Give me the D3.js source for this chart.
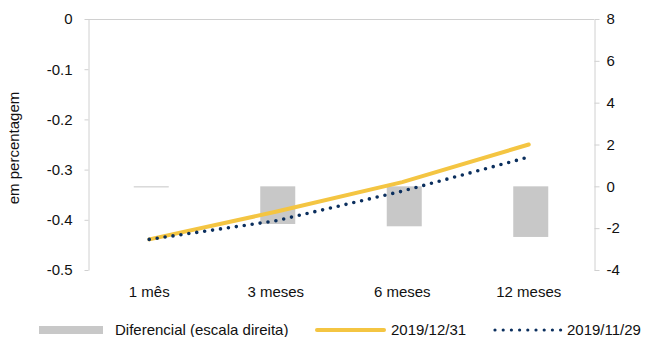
<!DOCTYPE html>
<html><head><meta charset="utf-8">
<script src="https://cdn.jsdelivr.net/npm/d3@7"></script>
<style>
html,body{margin:0;padding:0;background:#fff;}
svg text{font-family:"Liberation Sans",Arial,sans-serif;fill:#111;}
</style></head>
<body><svg id="c" width="646" height="337"></svg>
<script>
const categories = ["1 mês", "3 meses", "6 meses", "12 meses"];
const diferencial = [-0.05, -1.80, -1.91, -2.42];
const serie1231 = [-0.439, -0.384, -0.325, -0.250];
const serie1129 = [-0.439, -0.402, -0.343, -0.275];
const leftTicks = [0, -0.1, -0.2, -0.3, -0.4, -0.5];
const leftTickLabels = ["0", "-0.1", "-0.2", "-0.3", "-0.4", "-0.5"];
const rightTicks = [8, 6, 4, 2, 0, -2, -4];
const rightTickLabels = ["8", "6", "4", "2", "0", "-2", "-4"];
const legendLabels = ["Diferencial (escala direita)", "2019/12/31", "2019/11/29"];
const yAxisTitle = "em percentagem";

const svg = d3.select("#c");
const m = {l: 88, r: 594, t: 19, b: 270};
const x = d3.scaleBand().domain(categories).range([m.l, m.r]).paddingInner(0).paddingOuter(0);
const yL = d3.scaleLinear().domain([-0.5, 0]).range([m.b, m.t]);
const yR = d3.scaleLinear().domain([-4, 8]).range([m.b, m.t]);
const axisColor = "#d0d0d0";
const barW = 35;

// top border
svg.append("line").attr("x1", m.l).attr("x2", m.r).attr("y1", m.t + 0.5).attr("y2", m.t + 0.5)
  .attr("stroke", axisColor).attr("stroke-width", 1);

// left axis
const gL = svg.append("g").attr("transform", `translate(${m.l + 0.5},0)`)
  .call(d3.axisLeft(yL).tickValues(leftTicks).tickSize(4).tickSizeOuter(0)
    .tickFormat((d, i) => leftTickLabels[i]));
gL.select(".domain").attr("stroke", axisColor);
gL.selectAll(".tick line").attr("stroke", axisColor);
gL.selectAll(".tick text").attr("x", -16).attr("font-size", 15).style("fill", "#111");

// right axis
const gR = svg.append("g").attr("transform", `translate(${m.r + 0.5},0)`)
  .call(d3.axisRight(yR).tickValues(rightTicks).tickSize(5).tickSizeOuter(0)
    .tickFormat((d, i) => rightTickLabels[i]));
gR.select(".domain").attr("stroke", axisColor);
gR.selectAll(".tick line").attr("stroke", axisColor);
gR.selectAll(".tick text").attr("x", 12).attr("font-size", 15).style("fill", "#111");

// bars
svg.append("g").selectAll("rect").data(categories).join("rect")
  .attr("x", d => x(d) + x.bandwidth() / 2 - barW / 2)
  .attr("width", barW)
  .attr("y", (d, i) => Math.min(yR(0), yR(diferencial[i])))
  .attr("height", (d, i) => Math.max(1, Math.abs(yR(diferencial[i]) - yR(0))))
  .attr("fill", "#c8c8c8");

// category labels
svg.append("g").selectAll("text").data(categories).join("text")
  .attr("x", d => x(d) + x.bandwidth() / 2 - 2)
  .attr("y", 297)
  .attr("text-anchor", "middle").attr("font-size", 15)
  .text(d => d);

const line = d3.line().x((d, i) => x(categories[i]) + x.bandwidth() / 2 - 2).y(d => yL(d));
svg.append("path").datum(serie1231).attr("d", line)
  .attr("fill", "none").attr("stroke", "#f4c542").attr("stroke-width", 4).attr("stroke-linecap", "round");
svg.append("path").datum(serie1129).attr("d", line)
  .attr("fill", "none").attr("stroke", "#0b2f5e").attr("stroke-width", 3.6)
  .attr("stroke-linecap", "round").attr("stroke-dasharray", "0,8");

// y title
svg.append("text").attr("transform", "translate(19,148) rotate(-90)")
  .attr("text-anchor", "middle").attr("font-size", 15).text(yAxisTitle);

// legend
const lg = svg.append("g");
lg.append("rect").attr("x", 39).attr("y", 326).attr("width", 64).attr("height", 8).attr("fill", "#c8c8c8");
lg.append("text").attr("x", 115).attr("y", 335).attr("font-size", 15).text(legendLabels[0]);
lg.append("line").attr("x1", 317).attr("x2", 384).attr("y1", 330).attr("y2", 330)
  .attr("stroke", "#f4c542").attr("stroke-width", 4).attr("stroke-linecap", "round");
lg.append("text").attr("x", 391).attr("y", 335).attr("font-size", 15).text(legendLabels[1]);
lg.append("line").attr("x1", 495).attr("x2", 561).attr("y1", 330).attr("y2", 330)
  .attr("stroke", "#0b2f5e").attr("stroke-width", 3.2).attr("stroke-linecap", "round").attr("stroke-dasharray", "0,8.2");
lg.append("text").attr("x", 567).attr("y", 335).attr("font-size", 15).text(legendLabels[2]);
</script></body></html>
